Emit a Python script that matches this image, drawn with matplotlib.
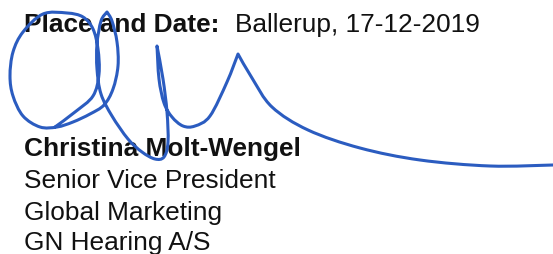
import numpy as np
import matplotlib.pyplot as plt
from matplotlib.path import Path
from matplotlib.patches import PathPatch

# text block (x, baseline y in pixels, text, weight)
lines_x = [24, 235, 24, 24, 24, 24]
lines_y = [32, 32, 156, 188, 220, 250]
lines_text = ["Place and Date:", "Ballerup, 17-12-2019", "Christina Molt-Wengel",
              "Senior Vice President", "Global Marketing", "GN Hearing A/S"]
lines_weight = ["bold", "normal", "bold", "normal", "normal", "normal"]

# signature (pixel coords)
sig_x = [55, 75, 93, 99, 98, 93, 83, 67, 43, 23, 13, 10, 13, 23, 40, 57, 73, 90, 104,
         113, 118, 117, 112, 107, 101, 97, 97, 101, 112, 128, 142, 155, 164, 168, 167,
         163, 157, 159, 164, 172, 183, 195, 210, 227, 238, 252, 272, 308, 360, 420,
         490, 553]
sig_y = [128, 113, 97, 75, 50, 30, 18, 14, 15, 33, 53, 77, 97, 117, 128, 128, 123, 115, 106,
         90, 67, 43, 22, 13, 22, 45, 70, 95, 117, 140, 153, 160, 158, 143, 113,
         80, 47, 80, 104, 118, 127, 127, 117, 83, 55, 79, 108, 131, 149, 161,
         167, 166]
# sharp turns of the pen
sig_cusps = [23, 36, 44]


def smooth_path(xs, ys, cusps):
    # Catmull-Rom through the points, as cubic Bezier segments
    p = np.column_stack([xs, ys]).astype(float)
    n = len(p)
    verts = [p[0]]
    codes = [Path.MOVETO]
    for i in range(n - 1):
        a = p[max(i - 1, 0)] if i not in cusps else p[i]
        d = p[min(i + 2, n - 1)] if (i + 1) not in cusps else p[i + 1]
        c1 = p[i] + (p[i + 1] - a) / 6
        c2 = p[i + 1] - (d - p[i]) / 6
        verts += [c1, c2, p[i + 1]]
        codes += [Path.CURVE4] * 3
    return Path(verts, codes)


fig = plt.figure(figsize=(5.53, 2.55), dpi=100)
ax = fig.add_axes([0, 0, 1, 1])
ax.set_xlim(0, 553)
ax.set_ylim(255, 0)
ax.axis("off")

for x, y, t, w in zip(lines_x, lines_y, lines_text, lines_weight):
    ax.text(x, y, t, fontsize=18.9, fontweight=w, family=["Liberation Sans", "DejaVu Sans"],
            color="#111111", ha="left", va="baseline")

ax.add_patch(PathPatch(smooth_path(sig_x, sig_y, sig_cusps), fill=False, edgecolor="#2b5cc0",
                       lw=2.2, capstyle="round", joinstyle="round", zorder=5))

fig.savefig("out.png", dpi=100)
